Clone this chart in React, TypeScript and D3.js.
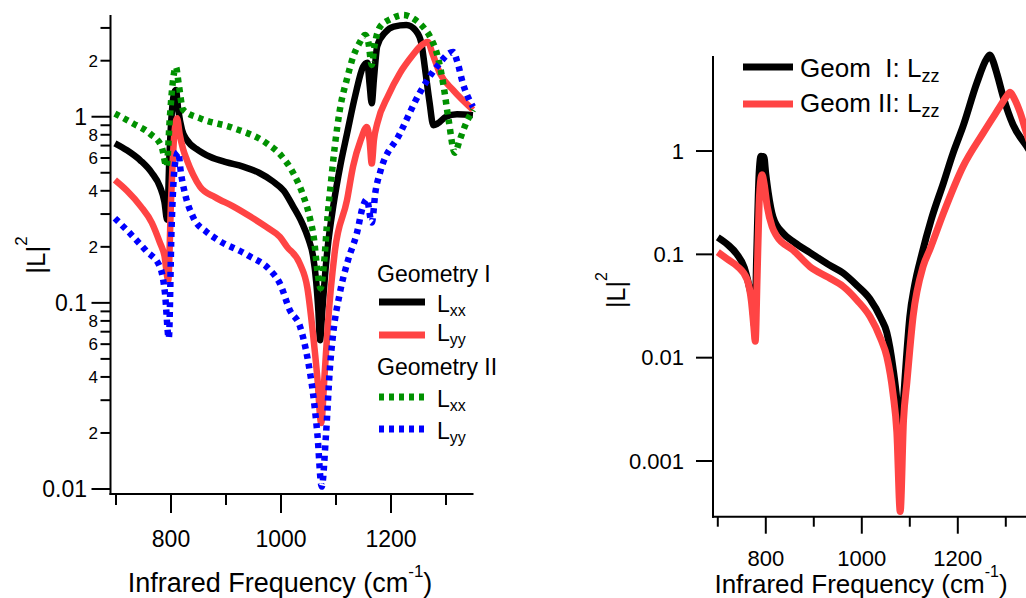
import React from 'react';
import * as d3 from 'd3';

type P = [number, number];

// Left panel: Geometry I (solid) and Geometry II (dotted), |L|^2 vs frequency (cm^-1)
const geomI_Lxx: P[] = [
  [698, 0.72], [720, 0.66], [745, 0.58], [765, 0.5], [780, 0.42], [788, 0.35], [793, 0.28],
  [797, 0.6], [802, 1.1], [806, 1.35], [809, 1.39], [813, 1.1], [820, 0.85], [829, 0.75],
  [850, 0.66], [871, 0.61], [900, 0.57], [931, 0.54], [960, 0.5], [985, 0.45], [1005, 0.4],
  [1022, 0.33], [1038, 0.27], [1050, 0.22], [1058, 0.18], [1064, 0.13], [1068, 0.09],
  [1071, 0.063], [1075, 0.09], [1080, 0.14], [1085, 0.2], [1095, 0.33], [1108, 0.55],
  [1120, 0.81], [1135, 1.3], [1149, 1.85], [1157, 1.95], [1161, 1.5], [1165, 1.18],
  [1169, 1.6], [1175, 2.4], [1190, 2.85], [1205, 3.05], [1228, 3.11], [1245, 2.9],
  [1255, 2.5], [1262, 1.8], [1270, 1.2], [1277, 0.9], [1285, 0.92], [1300, 1.0],
  [1320, 1.03], [1349, 1.02],
];
const geomI_Lyy: P[] = [
  [698, 0.457], [720, 0.4], [745, 0.33], [765, 0.27], [780, 0.21], [788, 0.18], [795, 0.132],
  [800, 0.35], [806, 0.8], [811, 0.98], [816, 0.8], [822, 0.67], [829, 0.585], [840, 0.49],
  [853, 0.42], [880, 0.37], [913, 0.33], [945, 0.29], [974, 0.255], [998, 0.226], [1011, 0.2],
  [1034, 0.163], [1048, 0.12], [1058, 0.069], [1066, 0.04], [1073, 0.0226], [1079, 0.04],
  [1085, 0.075], [1098, 0.19], [1120, 0.356], [1131, 0.54], [1145, 0.75], [1156, 0.88],
  [1161, 0.75], [1165, 0.56], [1169, 0.75], [1175, 0.92], [1195, 1.3], [1216, 1.71],
  [1240, 2.15], [1252, 2.37], [1267, 2.52], [1275, 2.2], [1289, 1.71], [1313, 1.39],
  [1349, 1.09],
];
const geomII_Lxx: P[] = [
  [698, 1.04], [731, 0.92], [762, 0.81], [783, 0.69], [792, 0.54], [798, 1.0], [804, 1.6],
  [809, 1.85], [814, 1.5], [822, 1.09], [853, 0.98], [913, 0.87], [974, 0.72], [1000, 0.62],
  [1022, 0.5], [1040, 0.38], [1052, 0.29], [1060, 0.22], [1066, 0.15], [1072, 0.12],
  [1078, 0.16], [1085, 0.3], [1090, 0.42], [1098, 0.7], [1107, 1.09], [1120, 1.6],
  [1131, 2.09], [1143, 2.5], [1153, 2.75], [1159, 2.5], [1165, 1.9], [1170, 2.4],
  [1180, 3.04], [1200, 3.35], [1222, 3.52], [1245, 3.3], [1260, 3.0], [1271, 2.69],
  [1285, 2.1], [1295, 1.5], [1305, 0.95], [1316, 0.64], [1325, 0.75], [1335, 0.9],
  [1349, 1.09],
];
const geomII_Lyy: P[] = [
  [698, 0.285], [725, 0.237], [755, 0.19], [780, 0.156], [789, 0.113], [796, 0.0646],
  [801, 0.25], [807, 0.55], [813, 0.645], [818, 0.5], [826, 0.38], [840, 0.29], [865, 0.24],
  [883, 0.22], [940, 0.18], [980, 0.15], [998, 0.127], [1016, 0.0915], [1035, 0.074],
  [1049, 0.049], [1058, 0.033], [1066, 0.02], [1074, 0.0103], [1082, 0.02], [1089, 0.045],
  [1095, 0.069], [1107, 0.113], [1122, 0.17], [1138, 0.237], [1149, 0.33], [1156, 0.36],
  [1165, 0.27], [1172, 0.4], [1180, 0.5], [1216, 0.81], [1252, 1.34], [1283, 1.85],
  [1313, 2.23], [1320, 2.0], [1331, 1.5], [1349, 1.13],
];

// Right panel: Lzz for both geometries
const geomI_Lzz: P[] = [
  [700, 0.146], [720, 0.125], [740, 0.1], [755, 0.075], [765, 0.05], [772, 0.035], [777, 0.02],
  [781, 0.1], [786, 0.6], [790, 0.89], [796, 0.88], [800, 0.6], [805, 0.4], [815, 0.23],
  [836, 0.16], [860, 0.13], [892, 0.104], [930, 0.08], [961, 0.066], [990, 0.05],
  [1017, 0.037], [1040, 0.024], [1052, 0.0176], [1065, 0.008], [1073, 0.0039],
  [1080, 0.00139], [1087, 0.004], [1093, 0.01], [1100, 0.025], [1110, 0.05], [1125, 0.1],
  [1145, 0.22], [1170, 0.49], [1190, 0.95], [1211, 1.74], [1240, 4.6], [1260, 7.8],
  [1267, 8.5], [1273, 7.5], [1282, 5.5], [1295, 3.3], [1315, 1.8], [1343, 1.12], [1350, 1.0],
];
const geomII_Lzz: P[] = [
  [700, 0.105], [720, 0.09], [740, 0.077], [761, 0.057], [770, 0.035], [775, 0.02],
  [778, 0.0144], [782, 0.06], [786, 0.3], [790, 0.55], [792, 0.59], [796, 0.5], [803, 0.29],
  [813, 0.186], [823, 0.15], [857, 0.11], [892, 0.076], [930, 0.06], [961, 0.049],
  [990, 0.036], [1017, 0.025], [1040, 0.015], [1052, 0.0103], [1065, 0.0045], [1073, 0.0019],
  [1080, 0.000325], [1087, 0.0025], [1094, 0.0058], [1107, 0.0253], [1128, 0.077],
  [1142, 0.112], [1170, 0.25], [1211, 0.71], [1253, 1.5], [1288, 2.7], [1300, 3.3],
  [1309, 3.7], [1318, 3.2], [1330, 2.35], [1343, 1.5], [1350, 1.2],
];

const leftMajorTicks = [0.01, 0.1, 1];
const leftMajorLabels = ['0.01', '0.1', '1'];
const leftMinorTicks = [0.02, 0.03, 0.04, 0.05, 0.06, 0.07, 0.08, 0.09, 0.2, 0.3, 0.4, 0.5, 0.6, 0.7, 0.8, 0.9, 2, 3];
const leftMinorLabelled = [0.02, 0.04, 0.06, 0.08, 0.2, 0.4, 0.6, 0.8, 2];
const xMajorTicks = [800, 1000, 1200];
const xMinorTicks = [700, 900, 1100, 1300];
const rightYTicks = [0.001, 0.01, 0.1, 1];
const rightYLabels = ['0.001', '0.01', '0.1', '1'];

const FONT = '"Liberation Sans", Arial, Helvetica, sans-serif';
const BLACK = '#000000';
const RED = '#ff4444';
const GREEN = '#009100';
const BLUE = '#0000ff';

function minorDigit(v: number): string {
  const d = Math.pow(10, Math.floor(Math.log10(v) + 1e-9));
  return String(Math.round(v / d));
}

export default function App() {
  const xL = d3.scaleLinear().domain([690, 1350]).range([110.5, 473.5]);
  const yL = d3.scaleLog().domain([0.0094, 3.52]).range([494, 15]);
  const xR = d3.scaleLinear().domain([690, 1350]).range([713, 1029.8]);
  const yR = d3.scaleLog().domain([0.000289, 8.5]).range([516.7, 55]);

  const lineL = d3.line<P>().x(d => xL(d[0])).y(d => yL(d[1])).curve(d3.curveMonotoneX);
  const lineR = d3.line<P>().x(d => xR(d[0])).y(d => yR(d[1])).curve(d3.curveMonotoneX);

  const axisY0L = 494;
  const axisX0L = 110.5;
  const axisY0R = 516.7;
  const axisX0R = 713;

  return (
    <svg width={1026} height={598} style={{ position: 'absolute', left: 0, top: 0, background: '#fff' }}
      fontFamily={FONT}>
      <rect x={0} y={0} width={1026} height={598} fill="#fff" />

      {/* ===== LEFT PANEL ===== */}
      <g>
        <path d={lineL(geomI_Lxx) || ''} fill="none" stroke={BLACK} strokeWidth={6.5} strokeLinejoin="round" />
        <path d={lineL(geomI_Lyy) || ''} fill="none" stroke={RED} strokeWidth={6.5} strokeLinejoin="round" />
        <path d={lineL(geomII_Lxx) || ''} fill="none" stroke={GREEN} strokeWidth={6.5} strokeDasharray="5,5" />
        <path d={lineL(geomII_Lyy) || ''} fill="none" stroke={BLUE} strokeWidth={6.5} strokeDasharray="5,5" />

        {/* y axis */}
        <line x1={axisX0L} x2={axisX0L} y1={15} y2={axisY0L + 1} stroke="#000" strokeWidth={2} />
        {leftMajorTicks.map((t, i) => (
          <g key={'lmj' + t}>
            <line x1={axisX0L - 19} x2={axisX0L} y1={yL(t)} y2={yL(t)} stroke="#000" strokeWidth={2} />
            <text x={87} y={yL(t) + 8.2} fontSize={23} textAnchor="end">{leftMajorLabels[i]}</text>
          </g>
        ))}
        {leftMinorTicks.map(t => (
          <line key={'lmn' + t} x1={axisX0L - 10} x2={axisX0L} y1={yL(t)} y2={yL(t)} stroke="#000" strokeWidth={2} />
        ))}
        {leftMinorLabelled.map(t => (
          <text key={'lml' + t} x={98} y={yL(t) + 6} fontSize={17} textAnchor="end">{minorDigit(t)}</text>
        ))}

        {/* x axis */}
        <line x1={axisX0L - 1} x2={473.5} y1={axisY0L} y2={axisY0L} stroke="#000" strokeWidth={2} />
        {xMajorTicks.map(t => (
          <g key={'lxm' + t}>
            <line x1={xL(t)} x2={xL(t)} y1={axisY0L} y2={axisY0L + 19} stroke="#000" strokeWidth={2} />
            <text x={xL(t)} y={547} fontSize={23} textAnchor="middle">{t}</text>
          </g>
        ))}
        {xMinorTicks.map(t => (
          <line key={'lxn' + t} x1={xL(t)} x2={xL(t)} y1={axisY0L} y2={axisY0L + 11} stroke="#000" strokeWidth={2} />
        ))}

        {/* axis titles */}
        <text x={280} y={591.5} fontSize={27} textAnchor="middle">
          Infrared Frequency (cm<tspan fontSize={17} dy={-15}>-1</tspan><tspan dy={15}>)</tspan>
        </text>
        <text transform="translate(45,255) rotate(-90)" fontSize={26} textAnchor="middle">
          |L|<tspan fontSize={17} dy={-18}>2</tspan>
        </text>

        {/* legend */}
        <text x={377} y={282} fontSize={23}>Geometry I</text>
        <line x1={379} x2={425} y1={302} y2={302} stroke={BLACK} strokeWidth={7} />
        <text x={437} y={312} fontSize={23}>L<tspan fontSize={16} dy={4}>xx</tspan></text>
        <line x1={379} x2={425} y1={335} y2={335} stroke={RED} strokeWidth={7} />
        <text x={437} y={341} fontSize={23}>L<tspan fontSize={16} dy={4}>yy</tspan></text>
        <text x={377} y={375} fontSize={23}>Geometry II</text>
        <line x1={379} x2={425} y1={397} y2={397} stroke={GREEN} strokeWidth={7} strokeDasharray="5,5" />
        <text x={437} y={407} fontSize={23}>L<tspan fontSize={16} dy={4}>xx</tspan></text>
        <line x1={379} x2={425} y1={429} y2={429} stroke={BLUE} strokeWidth={7} strokeDasharray="5,5" />
        <text x={437} y={439} fontSize={23}>L<tspan fontSize={16} dy={4}>yy</tspan></text>
      </g>

      {/* ===== RIGHT PANEL ===== */}
      <g>
        <path d={lineR(geomI_Lzz) || ''} fill="none" stroke={BLACK} strokeWidth={7} strokeLinejoin="round" />
        <path d={lineR(geomII_Lzz) || ''} fill="none" stroke={RED} strokeWidth={7} strokeLinejoin="round" />

        {/* y axis */}
        <line x1={axisX0R} x2={axisX0R} y1={56} y2={axisY0R + 1} stroke="#000" strokeWidth={2} />
        {rightYTicks.map((t, i) => (
          <g key={'rym' + t}>
            <line x1={axisX0R - 17} x2={axisX0R} y1={yR(t)} y2={yR(t)} stroke="#000" strokeWidth={2} />
            <text x={684} y={yR(t) + 7.8} fontSize={22} textAnchor="end">{rightYLabels[i]}</text>
          </g>
        ))}

        {/* x axis */}
        <line x1={axisX0R - 1} x2={1030} y1={axisY0R} y2={axisY0R} stroke="#000" strokeWidth={2} />
        {xMajorTicks.map(t => (
          <g key={'rxm' + t}>
            <line x1={xR(t)} x2={xR(t)} y1={axisY0R} y2={axisY0R + 17} stroke="#000" strokeWidth={2} />
            <text x={xR(t)} y={566} fontSize={22} textAnchor="middle">{t}</text>
          </g>
        ))}
        {xMinorTicks.map(t => (
          <line key={'rxn' + t} x1={xR(t)} x2={xR(t)} y1={axisY0R} y2={axisY0R + 10} stroke="#000" strokeWidth={2} />
        ))}

        <text x={861} y={593} fontSize={26} textAnchor="middle">
          Infrared Frequency (cm<tspan fontSize={16} dy={-16}>-1</tspan><tspan dy={16}>)</tspan>
        </text>
        <text transform="translate(625,290) rotate(-90)" fontSize={25} textAnchor="middle">
          |L|<tspan fontSize={16} dy={-18}>2</tspan>
        </text>

        {/* legend */}
        <line x1={743} x2={793} y1={67} y2={67} stroke={BLACK} strokeWidth={7} />
        <text x={800} y={77} fontSize={26} style={{ whiteSpace: 'pre' }}>
          {'Geom  I: L'}<tspan fontSize={18} dy={5}>zz</tspan>
        </text>
        <line x1={743} x2={793} y1={104} y2={104} stroke={RED} strokeWidth={7} />
        <text x={800} y={112} fontSize={26} style={{ whiteSpace: 'pre' }}>
          {'Geom II: L'}<tspan fontSize={18} dy={5}>zz</tspan>
        </text>
      </g>
    </svg>
  );
}
